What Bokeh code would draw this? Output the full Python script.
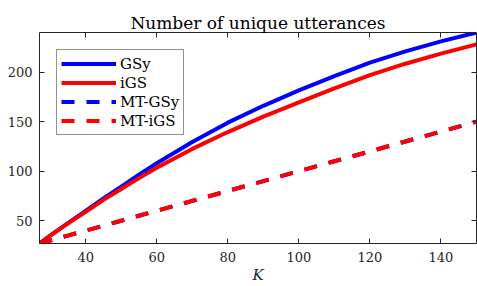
from bokeh.plotting import figure
from bokeh.models import LinearAxis, Legend, LegendItem, FixedTicker, Range1d
from bokeh.embed import file_html
from bokeh.resources import INLINE

# ---- data ----
K = [27, 30, 35, 40, 45, 50, 55, 60, 70, 80, 90, 100, 110, 120, 130, 140, 150]
GSy = [27, 35, 47.5, 60, 72.5, 84.5, 96.5, 108, 129.5, 149, 166, 181.5, 196, 209.5, 221, 231, 240]
iGS = [27, 35, 47.3, 59, 71, 82, 93, 103.5, 122.5, 139.5, 155, 169.5, 183.5, 197, 208.5, 218.7, 228]
MT_GSy = [27, 30, 35, 40, 45, 50, 55, 60, 70, 80, 90, 100, 110, 120, 130, 140, 150]
MT_iGS = [27, 30, 35, 40, 45, 50, 55, 60, 70, 80, 90, 100, 110, 120, 130, 140, 150]
x_ticks = [40, 60, 80, 100, 120, 140]
y_ticks = [50, 100, 150, 200]
title_text = "Number of unique utterances"
x_label = "K"

SERIF = "DejaVu Serif"
AX = "#262626"

p = figure(width=477, height=286, x_range=Range1d(27, 150), y_range=Range1d(27, 240),
           output_backend="svg", toolbar_location=None,
           min_border_left=39, min_border_right=1, min_border_top=32, min_border_bottom=43,
           x_axis_location=None, y_axis_location=None)
p.grid.visible = False
p.outline_line_color = None
p.background_fill_color = "white"

p.title.text = title_text
p.title.text_font = SERIF
p.title.text_font_style = "normal"
p.title.text_font_size = "17px"
p.title.align = "center"
p.title.text_color = "black"
p.title.standoff = 0
p.title.offset = 0


def style(ax, labels=True):
    ax.axis_line_color = AX
    ax.axis_line_width = 1
    ax.major_tick_line_color = AX
    ax.major_tick_in = 5
    ax.major_tick_out = 0
    ax.minor_tick_line_color = None
    ax.major_label_text_font = SERIF
    ax.major_label_text_color = AX
    ax.major_label_text_font_size = "13px"
    if not labels:
        ax.major_label_text_color = None
        ax.major_label_text_font_size = "1px"
        ax.major_label_standoff = 0


xb = LinearAxis(ticker=FixedTicker(ticks=x_ticks), axis_label=x_label)
style(xb)
xb.major_label_standoff = 8
xb.axis_label_text_font = SERIF
xb.axis_label_text_font_style = "italic"
xb.axis_label_text_font_size = "15px"
xb.axis_label_text_color = AX
xb.axis_label_standoff = 1
p.add_layout(xb, "below")

yl = LinearAxis(ticker=FixedTicker(ticks=y_ticks))
style(yl)
yl.major_label_standoff = 7
p.add_layout(yl, "left")

xt = LinearAxis(ticker=FixedTicker(ticks=x_ticks))
style(xt, labels=False)
p.add_layout(xt, "above")

yr = LinearAxis(ticker=FixedTicker(ticks=y_ticks))
style(yr, labels=False)
p.add_layout(yr, "right")

r1 = p.line(K, GSy, line_color="#0000FF", line_width=4)
r2 = p.line(K, iGS, line_color="#FF0000", line_width=4)
r3 = p.line(K, MT_GSy, line_color="#0000FF", line_width=4, line_dash="13 12")
r4 = p.line(K, MT_iGS, line_color="#FF0000", line_width=4, line_dash="13 12")

legend = Legend(items=[LegendItem(label="GSy", renderers=[r1]),
                       LegendItem(label="iGS", renderers=[r2]),
                       LegendItem(label="MT-GSy", renderers=[r3]),
                       LegendItem(label="MT-iGS", renderers=[r4])],
                location="top_left", margin=17, padding=4, spacing=0,
                label_height=19, glyph_height=19, glyph_width=55, label_standoff=4,
                label_text_font=SERIF, label_text_font_size="15px", label_text_color="black",
                border_line_color=AX, border_line_width=1, background_fill_color="white",
                background_fill_alpha=1)
p.add_layout(legend)

open("out.html", "w").write(file_html(p, INLINE))
